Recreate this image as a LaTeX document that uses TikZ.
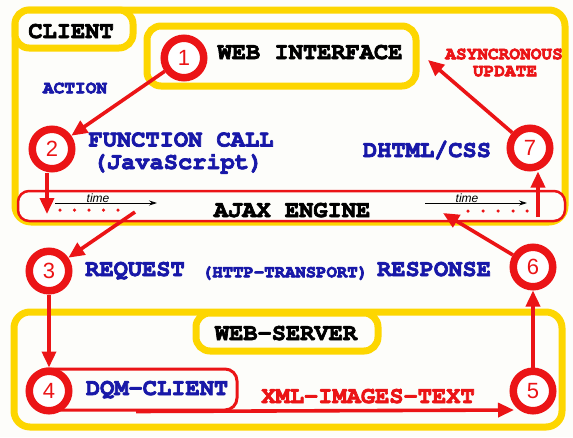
\documentclass[tikz,border=0pt]{standalone}
\usepackage[T1]{fontenc}
\usepackage{fontspec}
\setsansfont{Liberation Sans}
\newcommand\courb{\fontencoding{T1}\fontfamily{pcr}\fontseries{b}\fontshape{n}\selectfont}
\newcommand\hv[1]{\special{pdf:literal direct 2 Tr 0.7 w}#1\special{pdf:literal direct 0 Tr}}
\usetikzlibrary{arrows.meta}
\definecolor{myyel}{RGB}{253,214,0}
\definecolor{myred}{RGB}{235,20,22}
\definecolor{myblue}{RGB}{24,24,168}
\definecolor{bg}{RGB}{253,253,250}
\begin{document}
\begin{tikzpicture}[x=1pt,y=-1pt,
 ybox/.style={draw=myyel, line width=7pt, rounded corners=14pt, fill=bg, inner sep=0pt},
 mono/.style={font=\courb\fontsize{23.7}{26}\selectfont, inner sep=0pt, text height=14pt, text depth=0pt},
 small/.style={font=\courb\fontsize{17.8}{20}\selectfont, inner sep=0pt, text height=10.5pt, text depth=0pt},
 num/.style={circle, draw=myred, line width=7.5pt, fill=white, minimum size=39.5pt, inner sep=0pt, text=myred, font=\sffamily\fontsize{22}{24}\selectfont},
 arr/.style={draw=myred, line width=3.6pt, -{Triangle[length=16pt,width=14pt]}},
 tarr/.style={draw=black, line width=0.8pt, -{Stealth[length=8pt,width=5pt]}},
 tlab/.style={font=\sffamily\itshape\fontsize{12}{13}\selectfont, inner sep=0.5pt, anchor=south},
 dot/.style={circle, fill=myred, inner sep=0pt, minimum size=3.5pt}
]
\fill[bg] (0,0) rectangle (573,437);
\useasboundingbox (0,0) rectangle (573,437);

% client area
\node[ybox, rounded corners=16pt, minimum width=550pt, minimum height=212pt] (client) at (290,116) {};
\node[ybox, minimum width=118pt, minimum height=38pt] (clientlbl) at (74,29) {};
\node[mono] (clientt) at (71,31) {\hv{CLIENT}};
\node[ybox, minimum width=269pt, minimum height=60pt] (wi) at (281.5,56) {};
\node[mono] (wit) at (310,52) {\hv{WEB INTERFACE}};

% ajax engine
\node[draw=myred, line width=2.5pt, rounded corners=11pt, fill=bg, minimum width=547pt, minimum height=30pt, inner sep=0pt] (ajax) at (291.5,206) {};
\node[mono] (ajaxt) at (292,210) {\hv{AJAX ENGINE}};

% web server area
\node[ybox, rounded corners=16pt, minimum width=548pt, minimum height=115pt] (ws) at (288,369.5) {};
\node[ybox, minimum width=182pt, minimum height=38pt] (wslbl) at (287,332) {};
\node[mono] (wst) at (286,333) {\hv{WEB-SERVER}};
\node[draw=myred, line width=3pt, rounded corners=12pt, minimum width=202pt, minimum height=41pt, inner sep=0pt] (dqm) at (136,389.5) {};
\node[mono, text=myblue] (dqmt) at (157,388) {\hv{DQM-CLIENT}};

% texts
\node[small, text=myblue] (action) at (75,88) {\hv{ACTION}};
\node[mono, text=myblue] (fc) at (181,139.5) {\hv{FUNCTION CALL}};
\node[mono, text=myblue] (js) at (178,162) {\hv{(JavaScript)}};
\node[small, text=myred] (async) at (504,54) {\hv{ASYNCRONOUS}};
\node[small, text=myred] (upd) at (505,71) {\hv{UPDATE}};
\node[mono, text=myblue] (dhtml) at (427,150) {\hv{DHTML/CSS}};
\node[mono, text=myblue] (req) at (135,269) {\hv{REQUEST}};
\node[small, text=myblue, font=\courb\fontsize{17.3}{20}\selectfont] (http) at (285,272) {\hv{(HTTP-TRANSPORT)}};
\node[mono, text=myblue] (resp) at (434,269) {\hv{RESPONSE}};
\node[mono, text=myred] (xml) at (368,396) {\hv{XML-IMAGES-TEXT}};

% time markers
\coordinate (la) at (55,203);
\coordinate (lb) at (157,203);
\draw[tarr] (la) -- (lb);
\node[tlab] (tl) at (98,203) {time};
\foreach \x in {60,74.5,89,103.5,118} \node[dot] at (\x,210) {};
\coordinate (ra) at (425,203);
\coordinate (rb) at (527,203);
\draw[tarr] (ra) -- (rb);
\node[tlab] (tr) at (467,203) {time};
\foreach \x in {468,483,498,513,527} \node[dot] at (\x,211) {};

% circles
\node[num] (c1) at (184,58) {1};
\node[num] (c2) at (52,149) {2};
\node[num] (c3) at (49,271) {3};
\node[num] (c4) at (49,391) {4};
\node[num] (c5) at (533,391) {5};
\node[num] (c6) at (533,267) {6};
\node[num] (c7) at (530,148) {7};

% connectors
\coordinate (t2) at (47,214);
\coordinate (s3) at (135,212);
\coordinate (t5) at (514,410);
\coordinate (t6) at (443,213);
\coordinate (s7) at (538,217);
\coordinate (t7) at (428,60);
\draw[arr] (c1) -- (c2);
\draw[arr] (c2.south -| t2) -- (t2);
\draw[arr] (s3) -- (c3);
\draw[arr] (c3) -- (c4);
\draw[arr] (dqm.south) -- (t5);
\draw[arr] (c5) -- (c6);
\draw[arr] (c6) -- (t6);
\draw[arr] (s7) -- (s7 |- c7.south);
\draw[arr] (c7) -- (t7);
\end{tikzpicture}
\end{document}
